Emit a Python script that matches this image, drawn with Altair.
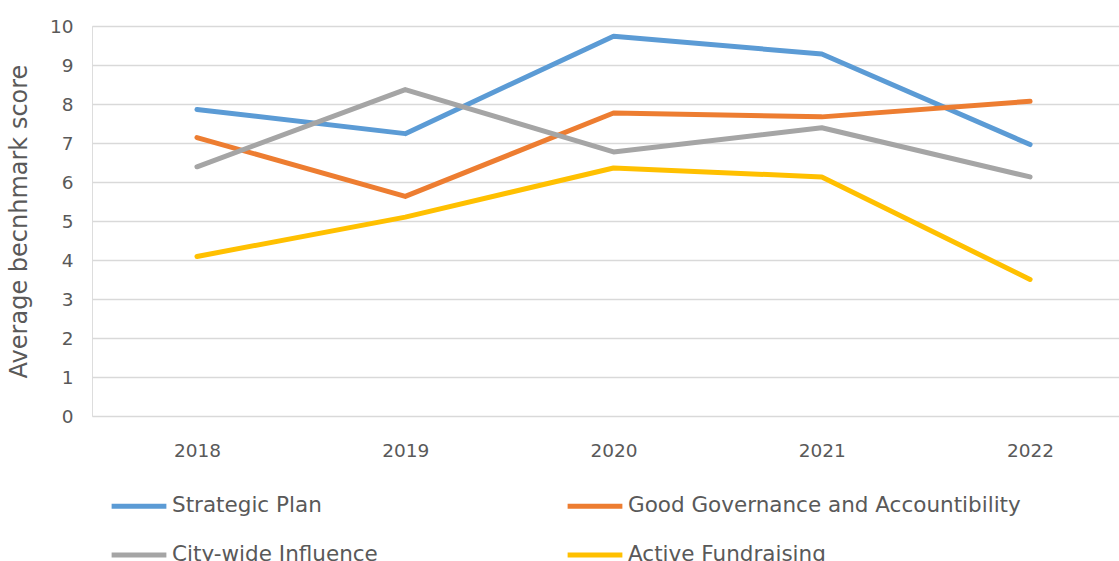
import altair as alt
import pandas as pd

years = [2018, 2019, 2020, 2021, 2022]
series_names = ["Strategic Plan", "Good Governance and Accountibility",
                "City-wide Influence", "Active Fundraising"]
strategic_plan = [7.86, 7.24, 9.74, 9.28, 6.96]
good_governance = [7.14, 5.63, 7.77, 7.67, 8.07]
city_wide = [6.39, 8.37, 6.77, 7.39, 6.13]
active_fundraising = [4.09, 5.10, 6.36, 6.13, 3.50]
colors = ["#5B9BD5", "#ED7D31", "#A5A5A5", "#FFC000"]

rows = []
for name, vals in zip(series_names, [strategic_plan, good_governance, city_wide, active_fundraising]):
    for y, v in zip(years, vals):
        rows.append({"Year": y, "Series": name, "Score": v})
df = pd.DataFrame(rows)

FONT = "DejaVu Sans"
TXT = "#595959"

chart = alt.Chart(df).mark_line(strokeWidth=5, strokeCap="round", strokeJoin="round").encode(
    x=alt.X("Year:Q",
            scale=alt.Scale(domain=[2017.496, 2022.427], nice=False, zero=False),
            axis=alt.Axis(values=years, format="d", title=None, grid=False, ticks=False,
                          domain=False, labelPadding=25, labelFontSize=18.5,
                          labelColor=TXT, labelFont=FONT)),
    y=alt.Y("Score:Q",
            scale=alt.Scale(domain=[0, 10], nice=False),
            axis=alt.Axis(values=list(range(0, 11)), title="Average becnhmark score",
                          ticks=False, domain=False, grid=True, gridColor="#D9D9D9",
                          gridWidth=1.5, labelPadding=19, labelFontSize=18.5,
                          labelColor=TXT, labelFont=FONT, titleFontSize=24,
                          titleFont=FONT, titleColor=TXT, titleFontWeight="normal",
                          titlePadding=18)),
    color=alt.Color("Series:N",
                    scale=alt.Scale(domain=series_names, range=colors),
                    sort=series_names,
                    legend=alt.Legend(title=None, orient="none", legendX=17, legendY=450,
                                      direction="horizontal",
                                      columns=2, gridAlign="all", columnPadding=-8,
                                      rowPadding=8, symbolType="stroke",
                                      symbolSize=3000, symbolStrokeWidth=5,
                                      labelFontSize=21.5, labelFont=FONT, labelColor=TXT,
                                      labelOffset=3, labelLimit=600)),
).properties(
    width=1027, height=390,
    autosize=alt.AutoSizeParams(type="none"),
    padding={"left": 92, "top": 26, "right": 0, "bottom": 145},
).configure_view(stroke=None).configure(background="white")

chart.save("out.html", embed_options={"renderer": "svg", "actions": False})
